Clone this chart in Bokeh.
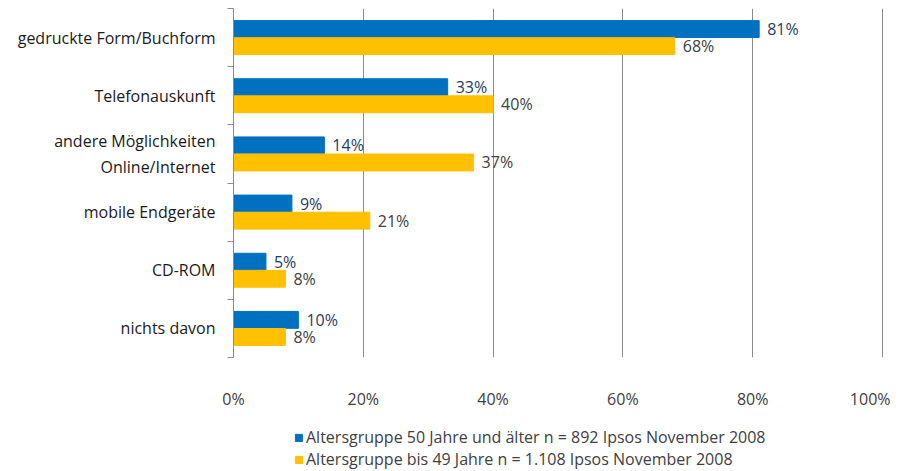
from bokeh.plotting import figure
from bokeh.layouts import column
from bokeh.models import (ColumnDataSource, Range1d, FixedTicker, NumeralTickFormatter,
                          Legend, LegendItem)
from bokeh.core.properties import value
from bokeh.embed import file_html
from bokeh.resources import INLINE

categories = ["gedruckte Form/Buchform", "Telefonauskunft",
              "andere Möglichkeiten\nOnline/Internet", "mobile Endgeräte",
              "CD-ROM", "nichts davon"]
older = [0.81, 0.33, 0.14, 0.09, 0.05, 0.10]
younger = [0.68, 0.40, 0.37, 0.21, 0.08, 0.08]
older_labels = ["81%", "33%", "14%", "9%", "5%", "10%"]
younger_labels = ["68%", "40%", "37%", "21%", "8%", "8%"]
series_names = ["Altersgruppe 50 Jahre und älter n = 892 Ipsos November 2008",
                "Altersgruppe bis 49 Jahre n = 1.108 Ipsos November 2008"]
x_ticks = [0, 0.2, 0.4, 0.6, 0.8, 1.0]

FONT = "Open Sans"
BLUE = "#0070C0"
YELLOW = "#FFC000"
GRID = "#8C8C8C"

n = len(categories)
centers = [n - 0.5 - i for i in range(n)]
off = 0.147
h = 0.29

src_o = ColumnDataSource(dict(y=[c + off for c in centers], v=older, lab=older_labels))
src_y = ColumnDataSource(dict(y=[c - off for c in centers], v=younger, lab=younger_labels))

p = figure(width=890, height=420, output_backend="svg", toolbar_location=None,
           x_range=Range1d(0, 1.0016), y_range=Range1d(0, n),
           min_border_left=233, min_border_right=7, min_border_top=8, min_border_bottom=63)
p.outline_line_color = None

r_o = p.hbar(y="y", right="v", left=0, height=h, source=src_o, fill_color=BLUE, line_color=BLUE)
r_y = p.hbar(y="y", right="v", left=0, height=h, source=src_y, fill_color=YELLOW, line_color=YELLOW)

p.text(x="v", y="y", text="lab", source=src_o, x_offset=8, text_baseline="middle",
       text_font=value(FONT), text_font_size="16px", text_color="#1F3D5C")
p.text(x="v", y="y", text="lab", source=src_y, x_offset=8, text_baseline="middle",
       text_font=value(FONT), text_font_size="16px", text_color="#404040")

# x axis
p.xaxis.ticker = FixedTicker(ticks=x_ticks)
p.xaxis.formatter = NumeralTickFormatter(format="0%")
p.xaxis.axis_line_color = None
p.xaxis.major_tick_line_color = None
p.xaxis.minor_tick_line_color = None
p.xaxis.major_tick_out = 0
p.xaxis.major_label_standoff = 30
p.xaxis.major_label_text_font = FONT
p.xaxis.major_label_text_font_size = "16px"
p.xaxis.major_label_text_color = "#404040"
p.xgrid.ticker = FixedTicker(ticks=x_ticks)
p.xgrid.grid_line_color = GRID
p.ygrid.grid_line_color = None

# y axis: labels at centers, tick marks at boundaries
p.yaxis.ticker = FixedTicker(ticks=centers, minor_ticks=list(range(n + 1)))
p.yaxis.major_label_overrides = {c: cat for c, cat in zip(centers, categories)}
p.yaxis.major_tick_line_color = None
p.yaxis.major_tick_out = 0
p.yaxis.minor_tick_in = 0
p.yaxis.minor_tick_out = 6
p.yaxis.minor_tick_line_color = GRID
p.yaxis.axis_line_color = GRID
p.yaxis.major_label_standoff = 12
p.yaxis.major_label_text_font = FONT
p.yaxis.major_label_text_font_size = "16px"
p.yaxis.major_label_text_color = "#1a1a1a"
p.yaxis.major_label_text_align = "right"

# legend strip below the chart (its frame is aligned with the chart frame)
p2 = figure(width=890, height=50, output_backend="svg", toolbar_location=None,
            x_range=Range1d(0, 1), y_range=Range1d(0, 1),
            x_axis_type=None, y_axis_type=None,
            min_border_left=0, min_border_right=0, min_border_top=0, min_border_bottom=0)
p2.outline_line_color = None
p2.xgrid.grid_line_color = None
p2.ygrid.grid_line_color = None
key_src = ColumnDataSource(dict(y=[-5], v=[0]))
l_o = p2.hbar(y="y", right="v", left=0, height=h, source=key_src, fill_color=BLUE, line_color=BLUE)
l_y = p2.hbar(y="y", right="v", left=0, height=h, source=key_src, fill_color=YELLOW, line_color=YELLOW)

legend = Legend(items=[LegendItem(label=series_names[0], renderers=[l_o]),
                       LegendItem(label=series_names[1], renderers=[l_y])],
                location=(61, 0), orientation="vertical")
legend.label_text_font = FONT
legend.label_text_font_size = "16px"
legend.label_text_color = "#404040"
legend.glyph_width = 9
legend.glyph_height = 9
legend.label_standoff = 3
legend.spacing = 0
legend.padding = 2
legend.margin = 0
legend.border_line_color = None
legend.background_fill_alpha = 0
legend.label_height = 18
p2.add_layout(legend)

layout = column(p, p2, spacing=0)
open("out.html", "w").write(file_html(layout, INLINE))
